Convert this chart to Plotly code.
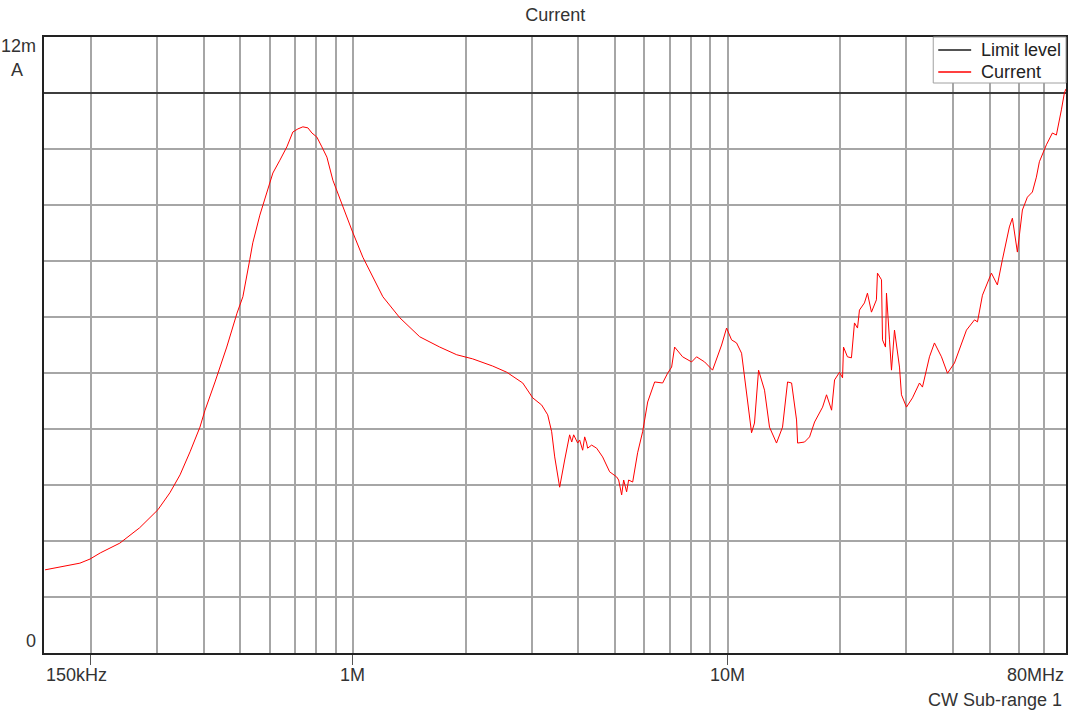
import math
import plotly.graph_objects as go

# ---- data (frequency in MHz, current in mA) ----
freq_mhz = [0.151, 0.165, 0.187, 0.199, 0.212, 0.239, 0.270, 0.302, 0.325, 0.346,
            0.368, 0.391, 0.403, 0.429, 0.461, 0.491, 0.509, 0.531, 0.541, 0.565,
            0.590, 0.612, 0.639, 0.667, 0.692, 0.714, 0.736, 0.759, 0.778, 0.802,
            0.827, 0.853, 0.885, 0.941, 0.994, 1.064, 1.131, 1.203, 1.335, 1.509,
            1.706, 1.894, 2.089, 2.362, 2.575, 2.841, 3.021, 3.192, 3.312, 3.394,
            3.458, 3.565, 3.676, 3.790, 3.839, 3.885, 3.982, 4.030, 4.106, 4.157,
            4.207, 4.233, 4.339, 4.474, 4.642, 4.846,
            5.060, 5.122, 5.217, 5.282, 5.379, 5.446, 5.583, 5.755, 5.935, 6.122,
            6.390, 6.711, 6.920,
            7.093, 7.224, 7.587, 8.019, 8.268, 8.686, 9.121, 9.641, 9.94, 10.25,
            10.57, 10.90, 11.10, 11.59, 11.80, 12.10, 12.55, 12.94, 13.51, 14.02,
            14.46, 14.82, 15.28, 15.38, 16.05, 16.55, 17.07, 17.93, 18.37, 18.95,
            19.30, 19.90, 20.27, 20.39, 20.89, 21.41, 21.81, 22.22, 22.49, 23.19,
            23.62, 24.21, 24.96, 25.12, 25.75, 25.91, 26.39, 26.55, 27.05, 27.38,
            27.89, 28.76, 29.11, 30.02, 31.15, 32.52, 33.12, 34.58, 35.65, 37.22,
            38.62, 40.32, 43.40, 45.60, 46.44, 47.88, 50.59, 52.48, 54.12, 56.50,
            57.55, 59.34, 61.20, 63.10, 65.07, 66.69, 67.93, 70.92, 73.59, 75.41,
            77.76, 79.21, 80.0]
current_ma = [1.62, 1.68, 1.75, 1.83, 1.95, 2.14, 2.44, 2.79, 3.12, 3.47,
              3.92, 4.40, 4.72, 5.28, 5.96, 6.62, 6.94, 7.66, 7.99, 8.53,
              8.96, 9.35, 9.60, 9.86, 10.15, 10.21, 10.25, 10.23, 10.13, 10.05,
              9.86, 9.66, 9.21, 8.69, 8.24, 7.71, 7.33, 6.94, 6.53, 6.16,
              5.96, 5.81, 5.73, 5.59, 5.47, 5.26, 4.97, 4.83, 4.64, 4.31,
              3.82, 3.23, 3.76, 4.25, 4.11, 4.25, 4.09, 4.15, 3.95, 4.21,
              4.09, 3.99, 4.05, 3.99, 3.82, 3.53,
              3.43, 3.37, 3.08, 3.37, 3.14, 3.37, 3.33, 3.90, 4.31, 4.89,
              5.28, 5.26, 5.45,
              5.57, 5.96, 5.77, 5.67, 5.77, 5.67, 5.51, 6.00, 6.33, 6.10,
              6.04, 5.84, 5.38, 4.29, 4.48, 5.51, 5.12, 4.40, 4.09, 4.40,
              5.28, 5.26, 4.54, 4.09, 4.11, 4.21, 4.50, 4.79, 5.03, 4.73,
              5.32, 5.47, 5.36, 5.96, 5.77, 5.75, 6.43, 6.33, 6.68, 6.82,
              7.01, 6.64, 6.88, 7.40, 7.27, 6.10, 5.96, 7.01, 6.10, 5.51,
              6.29, 5.57, 5.03, 4.79, 4.97, 5.26, 5.18, 5.77, 6.04, 5.77,
              5.45, 5.65, 6.29, 6.49, 6.45, 6.97, 7.40, 7.17, 7.66, 8.30,
              8.47, 7.81, 8.63, 8.88, 8.98, 9.27, 9.57, 9.90, 10.13, 10.09,
              10.58, 10.91, 10.99]

limit_level_ma = 10.91
f_start, f_stop = 0.15, 80.0
y_max = 12.0

major_ticks = [0.2, 1, 10]
minor_grid = [0.3, 0.4, 0.5, 0.6, 0.7, 0.8, 0.9, 2, 3, 4, 5, 6, 7, 8, 9,
              20, 30, 40, 50, 60, 70]
x_labels = ["150kHz", "1M", "10M", "80MHz"]
series_names = ["Limit level", "Current"]
series_colors = ["#1a1a1a", "#ff0000"]

FONT = "Liberation Sans, Arial, sans-serif"
GRID = "#a6a6a6"
TXT = "#333333"

fig = go.Figure()
fig.add_trace(go.Scatter(x=[f_start, f_stop], y=[limit_level_ma, limit_level_ma],
                         mode="lines", name=series_names[0], showlegend=False,
                         line=dict(color=series_colors[0], width=1.5)))
fig.add_trace(go.Scatter(x=freq_mhz, y=current_ma, mode="lines", name=series_names[1],
                         showlegend=False,
                         line=dict(color=series_colors[1], width=1)))

fig.update_layout(
    width=1075, height=710,
    margin=dict(l=44, r=7, t=37, b=57),
    paper_bgcolor="white", plot_bgcolor="white",
    font=dict(family=FONT, color=TXT, size=18),
    title=dict(text="Current", x=0.5165, xanchor="center", y=0.979, yanchor="middle",
               font=dict(family=FONT, size=18, color=TXT)),
    showlegend=False,
    xaxis=dict(type="log", range=[math.log10(f_start), math.log10(f_stop)],
               tickvals=major_ticks, ticktext=["", "", ""], ticks="outside",
               ticklen=10, tickcolor="#555555", tickwidth=1.2,
               showgrid=True, gridcolor=GRID, gridwidth=1.5,
               minor=dict(tickvals=minor_grid, showgrid=True, gridcolor=GRID,
                          gridwidth=1.5, ticks=""),
               showline=True, mirror=True, linecolor="#222222", linewidth=1.5,
               zeroline=False),
    yaxis=dict(range=[0, y_max], tickvals=[y_max * k / 11 for k in range(1, 11)],
               showticklabels=False, ticks="",
               showgrid=True, gridcolor=GRID, gridwidth=1.5,
               showline=True, mirror=True, linecolor="#222222", linewidth=1.5,
               zeroline=False),
)

# legend box (drawn in plot-area paper coordinates)
fig.add_shape(type="rect", xref="paper", yref="paper", x0=0.8701, x1=1.0,
              y0=0.9253, y1=1.0, fillcolor="white",
              line=dict(color="#a0a0a0", width=1), layer="above")
for i, (nm, col) in enumerate(zip(series_names, series_colors)):
    yy = 0.9790 - i * 0.0357
    fig.add_shape(type="line", xref="paper", yref="paper", x0=0.8750, x1=0.9072,
                  y0=yy, y1=yy, line=dict(color=col, width=1.5), layer="above")
    fig.add_annotation(x=0.9150, y=yy, xref="paper", yref="paper", text=nm,
                       showarrow=False, xanchor="left", yanchor="middle",
                       font=dict(family=FONT, size=18, color="#222222"))

# x tick labels
lab_pos = [(f_start, "left"), (1, "center"), (10, "center"), (f_stop, "right")]
for (fv, anc), txt in zip(lab_pos, x_labels):
    fig.add_annotation(x=math.log10(fv), y=0, xref="x", yref="paper", text=txt,
                       showarrow=False, xanchor=anc, yanchor="middle", yshift=-22,
                       font=dict(family=FONT, size=18, color=TXT))

# y labels
fig.add_annotation(x=0, y=1, xref="paper", yref="paper", text="12m", showarrow=False,
                   xanchor="right", yanchor="middle", xshift=-6, yshift=-9,
                   font=dict(family=FONT, size=18, color=TXT))
fig.add_annotation(x=0, y=1, xref="paper", yref="paper", text="A", showarrow=False,
                   xanchor="center", yanchor="middle", xshift=-27, yshift=-33,
                   font=dict(family=FONT, size=18, color=TXT))
fig.add_annotation(x=0, y=0, xref="paper", yref="paper", text="0", showarrow=False,
                   xanchor="right", yanchor="middle", xshift=-6, yshift=12,
                   font=dict(family=FONT, size=18, color=TXT))
fig.add_annotation(x=1, y=0, xref="paper", yref="paper", text="CW Sub-range 1",
                   showarrow=False, xanchor="right", yanchor="middle",
                   xshift=-2, yshift=-47,
                   font=dict(family=FONT, size=18, color=TXT))

fig.write_html("out.html")
